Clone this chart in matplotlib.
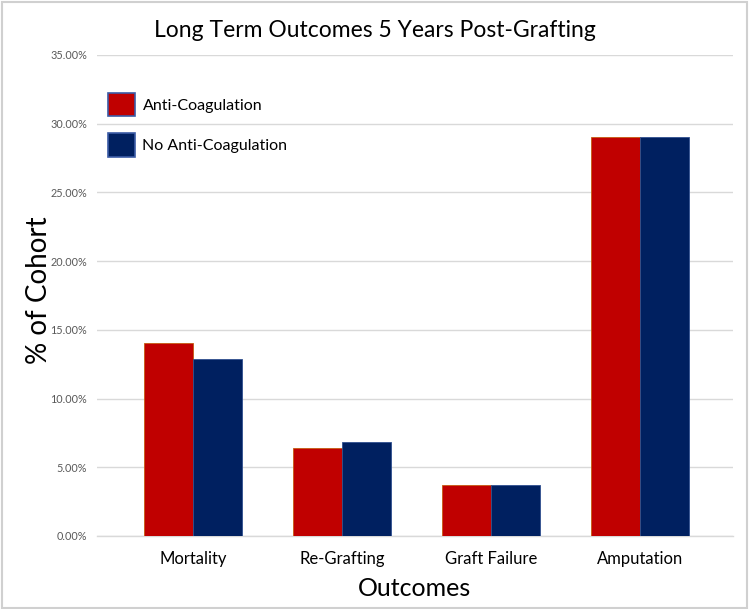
import matplotlib.pyplot as plt
import numpy as np

# data
outcomes = ["Mortality", "Re-Grafting", "Graft Failure", "Amputation"]
anti_coag = [14.06, 6.43, 3.71, 29.0]
no_anti_coag = [12.88, 6.86, 3.71, 29.0]
series_names = ["Anti-Coagulation", "No Anti-Coagulation"]
y_ticks = [0, 5, 10, 15, 20, 25, 30, 35]

plt.rcParams['font.family'] = ['Lato', 'DejaVu Sans']

red = '#C00000'
navy = '#002060'

fig = plt.figure(figsize=(7.5, 6.09), dpi=100)
ax = fig.add_axes([0.1293, 0.1199, 0.848, 0.7898])

x = np.arange(len(outcomes))
w = 0.33
ax.bar(x - w / 2, anti_coag, w, color=red, edgecolor='#C55A11', linewidth=0.6,
       label=series_names[0], zorder=3)
ax.bar(x + w / 2, no_anti_coag, w, color=navy, edgecolor='#2F4F8F', linewidth=0.6,
       label=series_names[1], zorder=3)

ax.set_xlim(-0.644, 3.624)
ax.set_ylim(0, 35)
ax.set_yticks(y_ticks)
ax.set_yticklabels(["%.2f%%" % v for v in y_ticks], fontsize=7.8, color='#595959')
ax.set_xticks(x)
ax.set_xticklabels(outcomes, fontsize=12, color='black')
ax.tick_params(axis='both', length=0)
ax.tick_params(axis='y', pad=7)
ax.tick_params(axis='x', pad=11)
ax.grid(axis='y', color='#d9d9d9', linewidth=1, zorder=0)
for s in ['top', 'right', 'left']:
    ax.spines[s].set_visible(False)
ax.spines['bottom'].set_color('#d9d9d9')
ax.spines['bottom'].set_linewidth(1)

ax.set_ylabel("% of Cohort", fontsize=20)
ax.yaxis.set_label_coords(-0.07, 0.51)
ax.set_xlabel("Outcomes", fontsize=18, labelpad=7)
fig.text(0.5, 0.95, "Long Term Outcomes 5 Years Post-Grafting", ha='center', va='center',
         fontsize=16.5)

leg = ax.legend(loc='upper left', bbox_to_anchor=(0.0, 0.945), frameon=False,
                fontsize=11.5, handlelength=1.7, handleheight=1.9, labelspacing=1.05,
                handletextpad=0.45, borderaxespad=0.3)
for h in leg.legend_handles:
    h.set_edgecolor('#3B5BA5')
    h.set_linewidth(1.2)

# thin light border round the whole picture
fig.patches.append(plt.Rectangle((0.002, 0.002), 0.994, 0.994, transform=fig.transFigure,
                                 fill=False, edgecolor='#d0d0d0', linewidth=1.5))

fig.savefig('out.png', dpi=100)
